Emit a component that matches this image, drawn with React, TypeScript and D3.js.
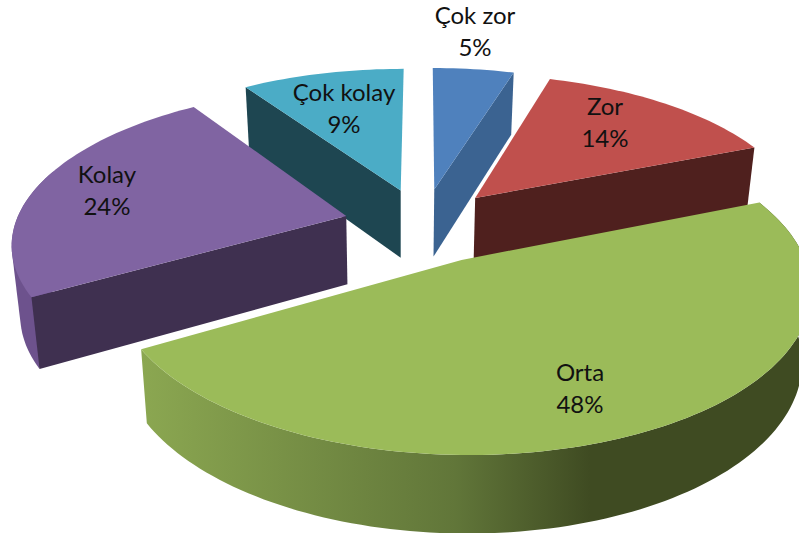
import React from "react";
import * as d3 from "d3";

const categories = ["Çok zor", "Zor", "Orta", "Kolay", "Çok kolay"];
const percentLabels = ["5%", "14%", "48%", "24%", "9%"];
const sliceShares = [4.7, 14.2, 47.7, 24.0, 9.4];
const explodeBy = [0.24, 0.24, 0.255, 0.24, 0.24];
const topColors = ["#4f81bd", "#c0504d", "#9bbb59", "#8064a2", "#4bacc6"];
const cutColors = ["#3b6391", "#4f201e", "#3f4b22", "#3f3050", "#1e4651"];
const labelAnchors: [number, number][] = [[475, 16], [605, 107], [580, 373], [107, 175], [344, 93]];

const W = 799, H = 533;
const CX = 423, CY = 224, RX = 331, RY = 151, K = 0.16;

function project(X: number, Y: number): [number, number] {
  const s = 1 / (1 + K * Y);
  return [CX + RX * X * s, CY - RY * Y * s];
}
function drop([x, y]: [number, number]): [number, number] {
  return [x + (400 - x) * 0.022, y + 59 + 0.043 * y];
}

const arcs = d3.pie<number>().sort(null).value((d) => d)(sliceShares);
const line = d3.line<[number, number]>();

function offset(i: number): [number, number] {
  const m = (arcs[i].startAngle + arcs[i].endAngle) / 2;
  return [explodeBy[i] * Math.sin(m), explodeBy[i] * Math.cos(m)];
}
function rim(i: number, a0: number, a1: number): [number, number][] {
  const [ox, oy] = offset(i);
  const n = Math.max(2, Math.ceil(Math.abs(a1 - a0) * 40));
  return d3.range(n + 1).map((j) => {
    const a = a0 + ((a1 - a0) * j) / n;
    return project(ox + Math.sin(a), oy + Math.cos(a));
  });
}
function apex(i: number): [number, number] {
  const [ox, oy] = offset(i);
  return project(ox, oy);
}
function topPath(i: number) {
  return line([apex(i), ...rim(i, arcs[i].startAngle, arcs[i].endAngle)])! + "Z";
}
function cutPath(i: number, angle: number) {
  const a = apex(i);
  const r = rim(i, angle, angle)[0];
  return line([a, r, drop(r), drop(a)])! + "Z";
}
function wallPath(i: number, a0: number, a1: number) {
  const pts = rim(i, a0, a1);
  return line([...pts, ...pts.map(drop).reverse()])! + "Z";
}
function wallHullPath(i: number, a0: number, a1: number) {
  const pts = rim(i, a0, a1);
  return line(d3.polygonHull([...pts, ...pts.map(drop)]) as [number, number][])! + "Z";
}

const [iZor, iMid, iOrta, iKolay, iCk] = [0, 1, 2, 3, 4];

export default function App() {
  const kolayWallEnd = arcs[iKolay].startAngle + 0.85;
  return (
    <svg width={W} height={H} viewBox={`0 0 ${W} ${H}`}
      style={{ position: "absolute", left: 0, top: 0, display: "block", background: "#fff" }}>
      <defs>
        <linearGradient id="ortaWall" gradientUnits="userSpaceOnUse" x1={142} x2={590} y1={0} y2={0}>
          <stop offset="0" stopColor="#8ba751" />
          <stop offset="0.7" stopColor="#617639" />
          <stop offset="1" stopColor="#3f4b22" />
        </linearGradient>
      </defs>
      <path d={cutPath(iCk, arcs[iCk].startAngle)} fill={cutColors[iCk]} />
      <path d={topPath(iCk)} fill={topColors[iCk]} />
      <path d={cutPath(iZor, arcs[iZor].endAngle)} fill={cutColors[iZor]} />
      <path d={topPath(iZor)} fill={topColors[iZor]} />
      <path d={cutPath(iMid, arcs[iMid].endAngle)} fill={cutColors[iMid]} />
      <path d={topPath(iMid)} fill={topColors[iMid]} />
      <path d={wallHullPath(iKolay, arcs[iKolay].startAngle, kolayWallEnd)} fill="#6d528d" />
      <path d={cutPath(iKolay, arcs[iKolay].startAngle)} fill={cutColors[iKolay]} />
      <path d={topPath(iKolay)} fill={topColors[iKolay]} />
      <path d={wallPath(iOrta, arcs[iOrta].startAngle, arcs[iOrta].endAngle)} fill="url(#ortaWall)" />
      <path d={topPath(iOrta)} fill={topColors[iOrta]} />
      {categories.map((c, i) => (
        <text key={c} textAnchor="middle" fontFamily="Lato, 'Open Sans', sans-serif" fontSize={24} fill="#111">
          <tspan x={labelAnchors[i][0]} y={labelAnchors[i][1] + 8}>{c}</tspan>
          <tspan x={labelAnchors[i][0]} y={labelAnchors[i][1] + 40}>{percentLabels[i]}</tspan>
        </text>
      ))}
    </svg>
  );
}
